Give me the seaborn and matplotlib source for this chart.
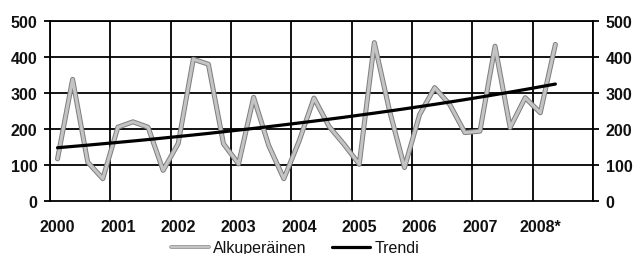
import numpy as np
import pandas as pd
import matplotlib
matplotlib.use("Agg")
import matplotlib.pyplot as plt
import matplotlib.patheffects as pe
import seaborn as sns

# quarterly values 2000Q1 .. 2008Q2
years = ["2000", "2001", "2002", "2003", "2004", "2005", "2006", "2007", "2008*"]
original = [117, 338, 108, 62, 205, 220, 205, 85,
            160, 394, 380, 159, 103, 288, 154, 62,
            165, 286, 207, 157, 102, 440, 252, 93,
            240, 315, 268, 190, 194, 430, 204, 287,
            245, 435]
trend = [148.0, 151.6, 155.2, 159.0, 162.8, 166.7, 170.7, 174.9,
         179.1, 183.4, 187.8, 192.4, 197.0, 201.7, 206.6, 211.6,
         216.7, 221.9, 227.3, 232.7, 238.4, 244.1, 250.0, 256.0,
         262.2, 268.5, 275.0, 281.6, 288.4, 295.4, 302.5, 309.8,
         317.3, 324.9]
n_quarters = 36

sns.set_theme(style="white")
plt.rcParams["font.family"] = ["Liberation Sans", "DejaVu Sans"]

df = pd.DataFrame({"q": np.arange(len(original)), "Alkuperäinen": original, "Trendi": trend})

fig, ax = plt.subplots(figsize=(6.35, 2.55), dpi=100)
fig.subplots_adjust(left=0.0787, right=0.934, top=0.9137, bottom=0.2078)

gray_fx = [pe.Stroke(linewidth=3.6, foreground="#7d7d7d"), pe.Normal()]
sns.lineplot(data=df, x="q", y="Alkuperäinen", ax=ax, color="#c4c4c4",
             linewidth=2.2, label="Alkuperäinen", legend=False)
ax.lines[-1].set_path_effects(gray_fx)
sns.lineplot(data=df, x="q", y="Trendi", ax=ax, color="black", linewidth=2.3,
             label="Trendi", legend=False)

ax.set_xlim(-0.5, n_quarters - 0.5)
ax.set_ylim(0, 500)
ax.set_xlabel("")
ax.set_ylabel("")

# gridlines on year boundaries, labels on first quarter
for xb in np.arange(-0.5, n_quarters, 4):
    ax.axvline(xb, color="black", linewidth=1.3, zorder=0)
for yv in range(100, 501, 100):
    ax.axhline(yv, color="black", linewidth=1.3, zorder=0)

ax.set_xticks(np.arange(0, n_quarters, 4))
ax.set_xticklabels(years)
ax.set_yticks(range(0, 501, 100))
ax.tick_params(axis="x", length=0, pad=13, labelsize=11.5)
ax.tick_params(axis="y", length=4, width=1.3, color="black", pad=5, labelsize=11.5,
               left=True, right=True, labelleft=True, labelright=True)
for lab in ax.get_xticklabels() + ax.get_yticklabels():
    lab.set_fontweight("bold")
    lab.set_color("#111111")

for side in ["left", "right", "bottom", "top"]:
    ax.spines[side].set_color("black")
    ax.spines[side].set_linewidth(1.3)

handles, labels = ax.get_legend_handles_labels()
leg = fig.legend(handles, labels, loc="center", bbox_to_anchor=(295 / 635, 1 - 249 / 255),
                 ncol=2, frameon=False, fontsize=11.5, handlelength=2.4,
                 columnspacing=1.6, handletextpad=0.25)
for t in leg.get_texts():
    t.set_color("#111111")
leg.legend_handles[0].set_linewidth(1.6)
leg.legend_handles[0].set_path_effects([pe.Stroke(linewidth=2.6, foreground="#8a8a8a"), pe.Normal()])

fig.savefig("out.png", dpi=100, facecolor="white")
